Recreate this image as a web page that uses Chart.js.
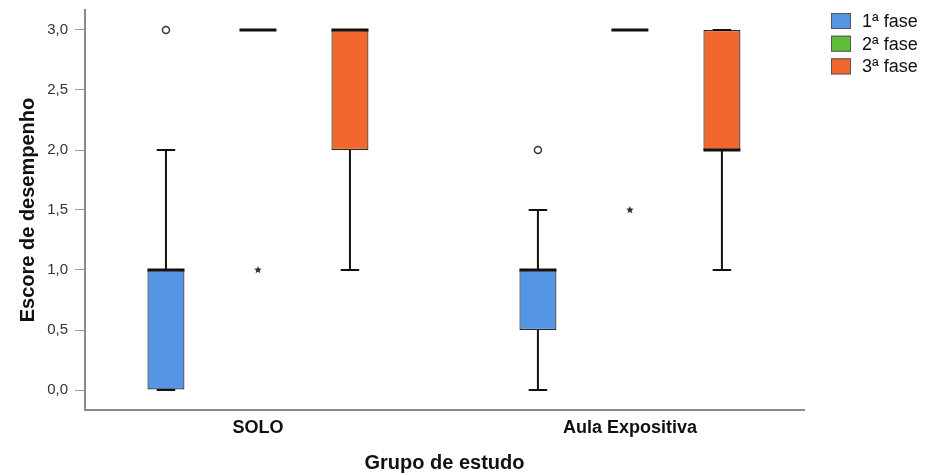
<!DOCTYPE html>
<html>
<head>
<meta charset="utf-8">
<script src="https://cdn.jsdelivr.net/npm/chart.js@4"></script>
<style>
  html, body { margin: 0; padding: 0; background: #fff; }
  #wrap { width: 930px; height: 475px; }
</style>
</head>
<body>
<div id="wrap"><canvas id="grafico"></canvas></div>
<script>
// boxplot: escore por grupo e fase
const grupos = ["SOLO", "Aula Expositiva"];
const fases = ["1ª fase", "2ª fase", "3ª fase"];
const cores = ["#5596e4", "#5fbf3b", "#f2672d"];

// [fase][grupo]
const minimo = [[0, 0], [3, 3], [1, 1]];
const q1 = [[0, 0.5], [3, 3], [2, 2]];
const mediana = [[1, 1], [3, 3], [3, 2]];
const q3 = [[1, 1], [3, 3], [3, 3]];
const maximo = [[2, 1.5], [3, 3], [3, 3]];
const atipicos = [[[3], [2]], [[], []], [[], []]]; // círculos
const extremos = [[[], []], [[1], [1.5]], [[], []]]; // estrelas

const ticksY = [0, 0.5, 1, 1.5, 2, 2.5, 3];

const fonte = "'Liberation Sans', Arial, sans-serif";

function desenharEstrela(ctx, x, y, r) {
  ctx.beginPath();
  for (let i = 0; i < 10; i++) {
    const ang = -Math.PI / 2 + (i * Math.PI) / 5;
    const rr = i % 2 === 0 ? r : r * 0.45;
    const px = x + Math.cos(ang) * rr;
    const py = y + Math.sin(ang) * rr;
    if (i === 0) ctx.moveTo(px, py);
    else ctx.lineTo(px, py);
  }
  ctx.closePath();
  ctx.fill();
}

const pluginCaixas = {
  id: "caixas",
  afterDatasetsDraw(chart) {
    const ctx = chart.ctx;
    const y = chart.scales.y;
    ctx.save();
    chart.data.datasets.forEach((ds, f) => {
      const meta = chart.getDatasetMeta(f);
      meta.data.forEach((bar, g) => {
        const x = bar.x;
        const w = bar.width;
        const cap = w / 2;
        const temCaixa = q3[f][g] > q1[f][g];
        ctx.strokeStyle = "#111";
        ctx.lineWidth = 2;
        // bigodes
        if (maximo[f][g] > q3[f][g]) {
          ctx.beginPath();
          ctx.moveTo(x, y.getPixelForValue(q3[f][g]));
          ctx.lineTo(x, y.getPixelForValue(maximo[f][g]));
          ctx.stroke();
        }
        if (minimo[f][g] < q1[f][g]) {
          ctx.beginPath();
          ctx.moveTo(x, y.getPixelForValue(q1[f][g]));
          ctx.lineTo(x, y.getPixelForValue(minimo[f][g]));
          ctx.stroke();
        }
        if (temCaixa) {
          ctx.beginPath();
          ctx.moveTo(x - cap / 2, y.getPixelForValue(maximo[f][g]));
          ctx.lineTo(x + cap / 2, y.getPixelForValue(maximo[f][g]));
          ctx.moveTo(x - cap / 2, y.getPixelForValue(minimo[f][g]));
          ctx.lineTo(x + cap / 2, y.getPixelForValue(minimo[f][g]));
          ctx.stroke();
        }
        // mediana
        ctx.lineWidth = 3;
        ctx.beginPath();
        ctx.moveTo(x - w / 2, y.getPixelForValue(mediana[f][g]));
        ctx.lineTo(x + w / 2, y.getPixelForValue(mediana[f][g]));
        ctx.stroke();
        // atípicos
        ctx.lineWidth = 1.5;
        ctx.strokeStyle = "#333";
        atipicos[f][g].forEach((v) => {
          ctx.beginPath();
          ctx.arc(x, y.getPixelForValue(v), 3.5, 0, Math.PI * 2);
          ctx.stroke();
        });
        ctx.fillStyle = "#333";
        extremos[f][g].forEach((v) => {
          desenharEstrela(ctx, x, y.getPixelForValue(v), 4);
        });
      });
    });
    ctx.restore();
  },
  afterDraw(chart) {
    // legenda
    const ctx = chart.ctx;
    ctx.save();
    ctx.font = "18px " + fonte;
    ctx.textBaseline = "middle";
    chart.data.datasets.forEach((ds, i) => {
      const top = 13 + i * 22.7;
      ctx.fillStyle = ds.backgroundColor;
      ctx.fillRect(831, top, 20, 16);
      ctx.strokeStyle = "#555";
      ctx.lineWidth = 1;
      ctx.strokeRect(831.5, top + 0.5, 19, 15);
      ctx.fillStyle = "#111";
      ctx.fillText(ds.label, 862, top + 9);
    });
    ctx.restore();
  },
};

new Chart(document.getElementById("grafico"), {
  type: "bar",
  data: {
    labels: grupos,
    datasets: fases.map((fase, f) => ({
      label: fase,
      data: grupos.map((_, g) => [q1[f][g], q3[f][g]]),
      backgroundColor: cores[f],
      borderColor: "#2a2a2a",
      borderWidth: 1.2,
      borderSkipped: false,
      barPercentage: 0.402,
      categoryPercentage: 0.742,
    })),
  },
  options: {
    responsive: true,
    maintainAspectRatio: false,
    animation: false,
    layout: { padding: { top: 10, right: 126, left: 0, bottom: 0 } },
    plugins: {
      legend: { display: false },
      tooltip: { enabled: false },
    },
    scales: {
      x: {
        grid: { display: false, drawTicks: false },
        border: { display: true, color: "#8a8a8a", width: 2 },
        ticks: {
          color: "#111",
          padding: 7,
          font: { family: fonte, size: 18, weight: "bold" },
        },
        title: {
          display: true,
          text: "Grupo de estudo",
          color: "#111",
          padding: { top: 0, bottom: 0 },
          font: { family: fonte, size: 20, weight: "bold" },
        },
        afterBuildTicks(scale) {
          // grupos mais afastados, como no original
          scale._startValue = -0.465;
          scale._valueRange = 1.933;
        },
        afterFit(scale) {
          scale.height = 65;
          scale.paddingLeft = 0;
          scale.paddingRight = 0;
        },
      },
      y: {
        min: -1 / 6,
        max: 19 / 6,
        afterBuildTicks(scale) {
          scale.ticks = ticksY.map((v) => ({ value: v }));
        },
        grid: {
          drawOnChartArea: false,
          drawTicks: true,
          tickLength: 10,
          color: "#9a9a9a",
        },
        border: { display: true, color: "#8a8a8a", width: 2 },
        ticks: {
          color: "#333",
          padding: 7,
          font: { family: fonte, size: 15 },
          callback: (v) => Number(v).toFixed(1).replace(".", ","),
        },
        title: {
          display: true,
          text: "Escore de desempenho",
          color: "#111",
          padding: { top: 16, bottom: 0 },
          font: { family: fonte, size: 20, weight: "bold" },
        },
        afterFit(scale) {
          scale.width = 85;
          scale.paddingTop = 0;
          scale.paddingBottom = 0;
        },
      },
    },
  },
  plugins: [pluginCaixas],
});
</script>
</body>
</html>
